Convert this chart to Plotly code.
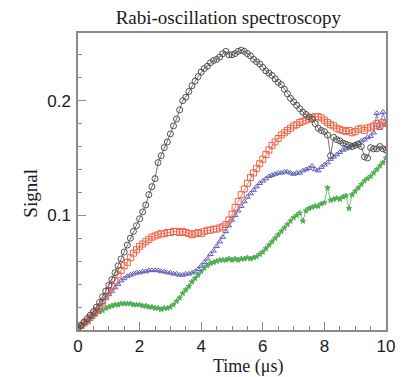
import plotly.graph_objects as go

time_us = [round(i * 0.1, 1) for i in range(101)]

black_signal = [
    0.002, 0.004, 0.007, 0.010, 0.013, 0.016, 0.020, 0.024, 0.029, 0.034,
    0.039, 0.044, 0.050, 0.056, 0.062, 0.068, 0.074, 0.080, 0.086, 0.091,
    0.097, 0.103, 0.109, 0.118, 0.125, 0.132, 0.146, 0.152, 0.159, 0.164,
    0.171, 0.178, 0.184, 0.192, 0.200, 0.203, 0.208, 0.213, 0.217, 0.221,
    0.225, 0.228, 0.230, 0.233, 0.235, 0.236, 0.238, 0.241, 0.243, 0.240,
    0.240, 0.241, 0.243, 0.244, 0.243, 0.241, 0.239, 0.236, 0.234, 0.232,
    0.229, 0.226, 0.224, 0.222, 0.219, 0.216, 0.214, 0.210, 0.206, 0.202,
    0.199, 0.196, 0.193, 0.190, 0.188, 0.186, 0.184, 0.180, 0.176, 0.174,
    0.173, 0.170, 0.152, 0.168, 0.166, 0.165, 0.163, 0.162, 0.161, 0.160,
    0.161, 0.162, 0.160, 0.151, 0.150, 0.159, 0.158, 0.158, 0.160, 0.158,
    0.157,
]

red_signal = [
    0.002, 0.004, 0.006, 0.008, 0.011, 0.014, 0.017, 0.020, 0.024, 0.029,
    0.034, 0.038, 0.043, 0.048, 0.052, 0.056, 0.059, 0.063, 0.067, 0.070,
    0.073, 0.075, 0.077, 0.079, 0.081, 0.082, 0.083, 0.084, 0.084, 0.085,
    0.085, 0.086, 0.086, 0.085, 0.086, 0.085, 0.084, 0.083, 0.084, 0.085,
    0.084, 0.086, 0.087, 0.087, 0.088, 0.088, 0.089, 0.090, 0.092, 0.096,
    0.101, 0.107, 0.112, 0.118, 0.123, 0.128, 0.133, 0.137, 0.141, 0.145,
    0.149, 0.153, 0.157, 0.161, 0.164, 0.167, 0.170, 0.172, 0.174, 0.176,
    0.178, 0.179, 0.181, 0.182, 0.183, 0.184, 0.185, 0.186, 0.186, 0.185,
    0.183, 0.181, 0.179, 0.178, 0.176, 0.175, 0.174, 0.173, 0.174, 0.172,
    0.173, 0.175, 0.176, 0.174, 0.176, 0.177, 0.178, 0.180, 0.178, 0.181,
    0.180,
]

blue_signal = [
    0.002, 0.004, 0.006, 0.008, 0.011, 0.014, 0.017, 0.020, 0.024, 0.028,
    0.031, 0.034, 0.037, 0.040, 0.043, 0.045, 0.047, 0.048, 0.049, 0.050,
    0.050, 0.051, 0.051, 0.052, 0.052, 0.052, 0.052, 0.051, 0.051, 0.050,
    0.050, 0.049, 0.049, 0.048, 0.048, 0.049, 0.049, 0.050, 0.051, 0.053,
    0.056, 0.059, 0.062, 0.066, 0.069, 0.073, 0.077, 0.081, 0.086, 0.091,
    0.096, 0.100, 0.104, 0.108, 0.112, 0.116, 0.119, 0.122, 0.125, 0.128,
    0.130, 0.132, 0.134, 0.135, 0.136, 0.137, 0.137, 0.138, 0.138, 0.137,
    0.136, 0.137, 0.137, 0.139, 0.140, 0.141, 0.143, 0.140, 0.139, 0.142,
    0.144, 0.146, 0.149, 0.151, 0.153, 0.155, 0.157, 0.158, 0.159, 0.161,
    0.162, 0.163, 0.165, 0.166, 0.168, 0.169, 0.172, 0.189, 0.176, 0.190,
    0.180,
]

green_signal = [
    0.002, 0.004, 0.006, 0.008, 0.010, 0.012, 0.014, 0.016, 0.017, 0.019,
    0.020, 0.021, 0.022, 0.022, 0.023, 0.023, 0.023, 0.023, 0.022, 0.022,
    0.022, 0.021, 0.021, 0.020, 0.020, 0.019, 0.019, 0.018, 0.019, 0.019,
    0.020, 0.022, 0.025, 0.028, 0.032, 0.035, 0.038, 0.042, 0.045, 0.048,
    0.051, 0.054, 0.056, 0.058, 0.059, 0.060, 0.061, 0.061, 0.061, 0.062,
    0.061, 0.062, 0.061, 0.062, 0.062, 0.063, 0.062, 0.063, 0.064, 0.066,
    0.068, 0.071, 0.074, 0.077, 0.080, 0.083, 0.086, 0.089, 0.092, 0.095,
    0.098, 0.100, 0.102, 0.095, 0.104, 0.106, 0.107, 0.108, 0.108, 0.110,
    0.111, 0.124, 0.113, 0.114, 0.115, 0.114, 0.116, 0.117, 0.106, 0.118,
    0.121, 0.124, 0.127, 0.130, 0.132, 0.134, 0.137, 0.140, 0.143, 0.146,
    0.150,
]

series = [
    ("green", green_signal, "#4fae4f", "star", 4),
    ("blue", blue_signal, "#6262bc", "triangle-up-open", 5),
    ("red", red_signal, "#ee6448", "square-open", 6),
    ("black", black_signal, "#505050", "circle-open", 6),
]

fig = go.Figure()
for name, vals, color, sym, size in series:
    fig.add_trace(go.Scatter(
        x=time_us, y=vals, mode="lines+markers", name=name,
        line=dict(color=color, width=0.8),
        marker=dict(symbol=sym, size=size, color=color, line=dict(color=color, width=1)),
        showlegend=False,
    ))

frame = "#8a8a8a"
tickfont = dict(family="Liberation Sans, Arial, sans-serif", size=17, color="#1a1a1a")
serif = "Liberation Serif, Times New Roman, serif"
fig.update_layout(
    width=407, height=377,
    margin=dict(l=78, r=21, t=33, b=47),
    paper_bgcolor="white", plot_bgcolor="white",
    title=dict(text="Rabi-oscillation spectroscopy", x=0.561, xanchor="center",
               y=0.955, yanchor="middle",
               font=dict(family=serif, size=19, color="#1a1a1a")),
    xaxis=dict(range=[0, 10], showgrid=False, zeroline=False,
               showline=True, linecolor=frame, linewidth=1.5, mirror=True,
               ticks="inside", ticklen=8, tickcolor=frame, tickwidth=1,
               tickvals=[0, 2, 4, 6, 8, 10], ticktext=["0", "2", "4", "6", "8", "10"],
               minor=dict(dtick=0.5, ticks="inside", ticklen=4, tickcolor=frame, showgrid=False),
               tickfont=tickfont, ticklabelstandoff=0),
    yaxis=dict(range=[0, 0.259], showgrid=False, zeroline=False,
               showline=True, linecolor=frame, linewidth=1.5, mirror=True,
               ticks="inside", ticklen=8, tickcolor=frame, tickwidth=1,
               tickvals=[0.1, 0.2], ticktext=["0.1", "0.2"],
               minor=dict(dtick=0.02, tick0=0, ticks="inside", ticklen=4, tickcolor=frame, showgrid=False),
               tickfont=tickfont, ticklabelstandoff=2),
    annotations=[
        dict(text="Time (μs)", xref="paper", yref="paper", x=0.552, y=-0.122,
             xanchor="center", yanchor="middle", showarrow=False,
             font=dict(family=serif, size=18, color="#1a1a1a")),
        dict(text="Signal", xref="paper", yref="paper", x=-0.155, y=0.46,
             xanchor="center", yanchor="middle", showarrow=False, textangle=-90,
             font=dict(family=serif, size=19, color="#1a1a1a")),
    ],
)

fig.write_html("out.html")
